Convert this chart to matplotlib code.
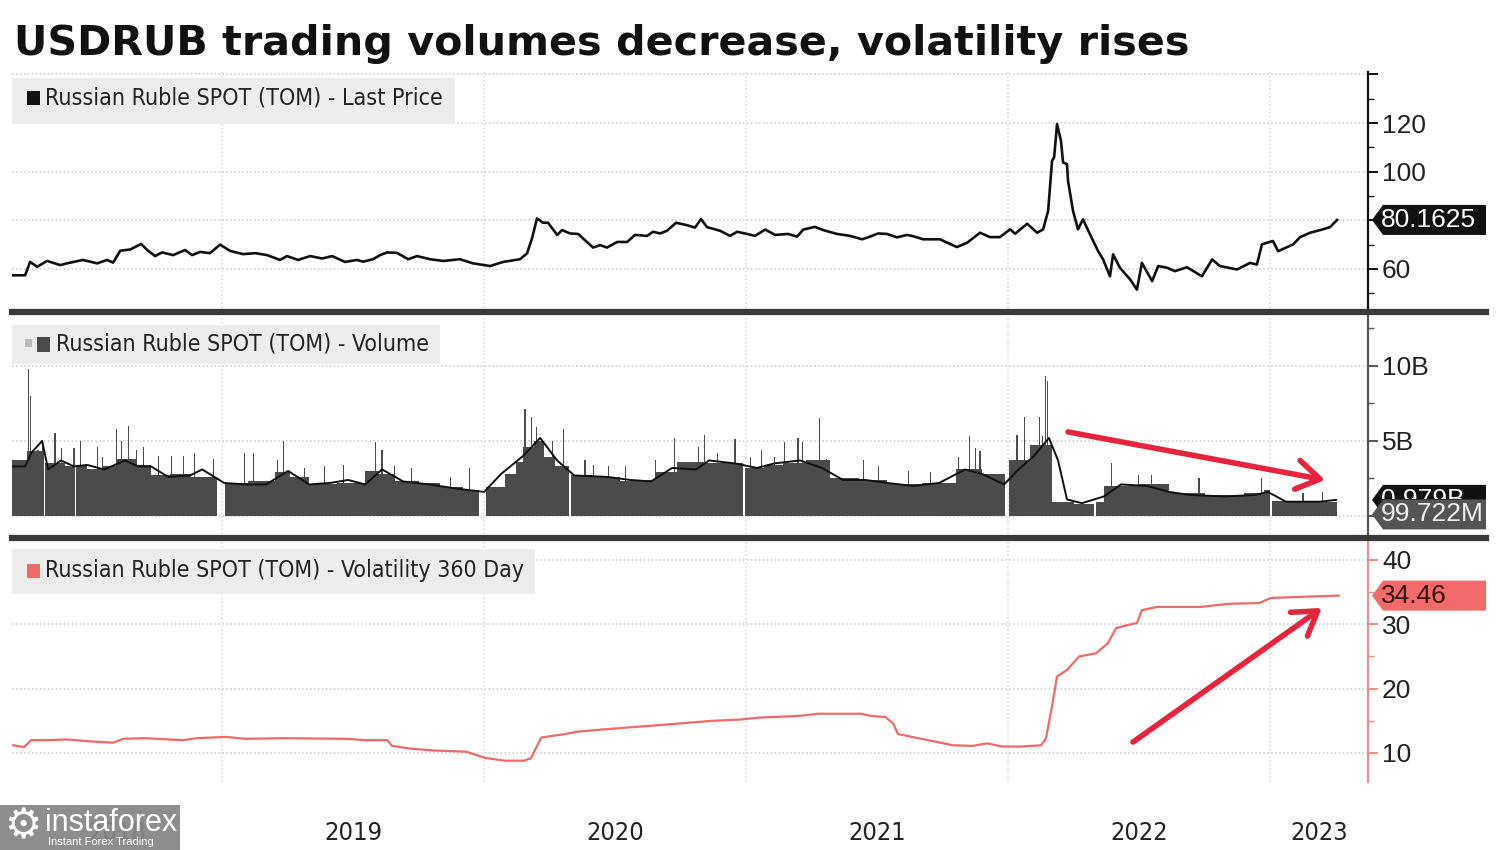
import matplotlib
matplotlib.use("Agg")
import matplotlib.pyplot as plt
from matplotlib.patches import Polygon, Rectangle
from matplotlib.lines import Line2D
from matplotlib.transforms import blended_transform_factory, Bbox, TransformedBbox
from matplotlib.ticker import FixedLocator

plt.rcParams['font.family'] = ['Liberation Sans', 'DejaVu Sans']
NARROW = ['DejaVu Sans']

# ---------------- data (time as decimal years) ----------------
title = "USDRUB trading volumes decrease, volatility rises"
legend_price = "Russian Ruble SPOT (TOM) - Last Price"
legend_volume = "Russian Ruble SPOT (TOM) - Volume"
legend_vol = "Russian Ruble SPOT (TOM) - Volatility 360 Day"
year_labels = ['2018', '2019', '2020', '2021', '2022', '2023']
year_starts = [2019, 2020, 2021, 2022, 2023]

price_t = [2018.202, 2018.248, 2018.267, 2018.294, 2018.332, 2018.382, 2018.420, 2018.469, 2018.523, 2018.561,
           2018.584, 2018.611, 2018.649, 2018.691, 2018.714, 2018.744, 2018.771, 2018.813, 2018.859, 2018.885,
           2018.916, 2018.954, 2018.992, 2019.031, 2019.080, 2019.126, 2019.172, 2019.221, 2019.248, 2019.290,
           2019.336, 2019.382, 2019.420, 2019.469, 2019.515, 2019.538, 2019.576, 2019.603, 2019.630, 2019.668,
           2019.710, 2019.744, 2019.794, 2019.844, 2019.908, 2019.958, 2020.023, 2020.073, 2020.137, 2020.164,
           2020.183, 2020.202, 2020.225, 2020.244, 2020.279, 2020.298, 2020.328, 2020.359, 2020.416, 2020.443,
           2020.469, 2020.508, 2020.546, 2020.576, 2020.622, 2020.645, 2020.672, 2020.698, 2020.733, 2020.775,
           2020.805, 2020.828, 2020.851, 2020.901, 2020.939, 2020.966, 2021.004, 2021.034, 2021.073, 2021.111,
           2021.160, 2021.195, 2021.218, 2021.263, 2021.294, 2021.347, 2021.397, 2021.443, 2021.466, 2021.504,
           2021.538, 2021.576, 2021.615, 2021.637, 2021.676, 2021.740, 2021.805, 2021.844, 2021.893, 2021.931,
           2021.969, 2022.008, 2022.027, 2022.073, 2022.111, 2022.134, 2022.153, 2022.168, 2022.176, 2022.187,
           2022.202, 2022.210, 2022.225, 2022.229, 2022.248, 2022.267, 2022.286, 2022.313, 2022.344, 2022.363,
           2022.389, 2022.401, 2022.427, 2022.466, 2022.492, 2022.511, 2022.550, 2022.573, 2022.607, 2022.637,
           2022.683, 2022.740, 2022.779, 2022.809, 2022.874, 2022.924, 2022.950, 2022.969, 2022.989, 2023.011,
           2023.031, 2023.088, 2023.115, 2023.153, 2023.202, 2023.229, 2023.256]
price_v = [57.4, 57.4, 62.9, 60.9, 63.3, 61.6, 62.6, 63.7, 62.3, 63.7,
           62.6, 67.5, 68.0, 70.3, 67.8, 65.3, 66.8, 65.7, 67.8, 65.7,
           67.0, 66.5, 70.0, 67.4, 66.1, 66.5, 65.7, 63.7, 65.3, 63.7,
           65.3, 64.3, 65.3, 62.9, 63.7, 63.0, 64.0, 65.7, 66.8, 66.6,
           64.0, 65.3, 64.0, 63.3, 64.0, 62.3, 61.2, 62.9, 64.0, 66.4,
           72.6, 80.8, 79.0, 79.0, 74.0, 76.0, 74.6, 74.4, 68.8, 69.8,
           68.8, 71.1, 71.1, 74.0, 73.6, 75.3, 74.6, 75.7, 79.0, 78.0,
           77.0, 80.5, 77.2, 75.7, 73.6, 75.3, 74.4, 73.6, 76.2, 74.0,
           74.4, 73.3, 76.2, 77.3, 76.0, 74.4, 73.6, 72.2, 73.0, 74.6,
           74.4, 73.0, 74.0, 73.5, 72.2, 72.2, 69.0, 70.8, 74.9, 73.1,
           73.1, 76.3, 74.5, 78.6, 74.9, 76.3, 83.9, 104.5, 105.9, 119.6,
           112.7, 103.8, 103.1, 96.2, 83.9, 76.3, 80.4, 74.2, 67.3, 63.9,
           57.0, 66.0, 60.5, 55.7, 51.5, 62.5, 55.0, 61.2, 60.5, 59.1,
           60.7, 57.0, 63.9, 61.2, 59.8, 62.5, 61.8, 70.1, 70.8, 71.5,
           67.3, 70.1, 73.1, 74.9, 76.3, 77.2, 80.1625]
price_last_label = "80.1625"

# volume body (dense daily bars), in billions
body_start = [2018.198, 2018.256, 2018.324, 2018.40, 2018.443, 2018.485, 2018.54, 2018.599, 2018.67, 2018.729,
              2018.80, 2018.88, 2019.012, 2019.10, 2019.202, 2019.26, 2019.332, 2019.44, 2019.546, 2019.60,
              2019.66, 2019.75, 2019.832, 2019.92, 2020.006, 2020.080, 2020.12, 2020.149, 2020.19, 2020.229,
              2020.27, 2020.331, 2020.42, 2020.519, 2020.60, 2020.653, 2020.737, 2020.85, 2020.995, 2021.07,
              2021.141, 2021.23, 2021.321, 2021.43, 2021.538, 2021.67, 2021.802, 2021.90, 2022.002, 2022.084,
              2022.168, 2022.25, 2022.335, 2022.366, 2022.50, 2022.615, 2022.75, 2022.90, 2022.977, 2023.008,
              2023.10]
body_end = [2018.256, 2018.321, 2018.40, 2018.437, 2018.485, 2018.54, 2018.599, 2018.67, 2018.729, 2018.80,
            2018.88, 2018.982, 2019.10, 2019.202, 2019.26, 2019.332, 2019.44, 2019.546, 2019.60, 2019.66,
            2019.75, 2019.832, 2019.92, 2019.982, 2020.080, 2020.12, 2020.149, 2020.19, 2020.229, 2020.27,
            2020.325, 2020.42, 2020.519, 2020.60, 2020.653, 2020.737, 2020.85, 2020.990, 2021.07, 2021.141,
            2021.23, 2021.321, 2021.43, 2021.538, 2021.67, 2021.802, 2021.90, 2021.990, 2022.084, 2022.168,
            2022.25, 2022.330, 2022.366, 2022.50, 2022.615, 2022.75, 2022.90, 2022.977, 2023.0, 2023.10,
            2023.256]
body_v = [3.7, 4.3, 3.5, 3.3, 3.4, 3.1, 3.3, 3.8, 3.4, 2.7,
          2.8, 2.6, 2.2, 2.3, 2.9, 2.6, 2.1, 2.2, 3.0, 2.8,
          2.3, 2.2, 1.9, 1.7, 1.9, 2.8, 3.6, 4.6, 5.0, 3.9,
          3.3, 2.7, 2.6, 2.3, 2.4, 2.9, 3.6, 3.5, 3.2, 3.4,
          3.5, 3.7, 2.5, 2.4, 2.1, 2.2, 3.1, 2.8, 3.7, 4.7,
          0.9, 0.8, 0.9, 2.0, 2.1, 1.5, 1.4, 1.5, 1.7, 1.0,
          0.95]

spike_t = [2018.261, 2018.269, 2018.297, 2018.313, 2018.362, 2018.387, 2018.435, 2018.460, 2018.525, 2018.542,
           2018.598, 2018.615, 2018.644, 2018.672, 2018.700, 2018.757, 2018.807, 2018.852, 2018.895, 2018.966,
           2019.085, 2019.121, 2019.210, 2019.235, 2019.316, 2019.390, 2019.463, 2019.585, 2019.610, 2019.659,
           2019.724, 2019.871, 2019.944, 2020.156, 2020.181, 2020.200, 2020.221, 2020.262, 2020.303, 2020.385,
           2020.417, 2020.474, 2020.540, 2020.654, 2020.727, 2020.818, 2020.842, 2020.892, 2020.958, 2021.016,
           2021.058, 2021.107, 2021.148, 2021.198, 2021.215, 2021.281, 2021.306, 2021.447, 2021.505, 2021.620,
           2021.703, 2021.811, 2021.852, 2021.877, 2021.893, 2022.034, 2022.064, 2022.092, 2022.120, 2022.133,
           2022.142, 2022.150, 2022.395, 2022.497, 2022.547, 2022.729, 2022.969, 2023.126, 2023.201]
spike_v = [9.8, 8.0, 4.4, 5.0, 5.5, 4.5, 4.5, 5.0, 4.6, 3.9,
           5.8, 5.0, 6.0, 4.4, 4.6, 4.0, 4.0, 4.0, 4.2, 3.8,
           4.2, 4.2, 3.7, 5.0, 3.2, 3.3, 3.4, 4.9, 4.4, 3.3,
           3.2, 2.6, 3.2, 7.1, 6.6, 5.9, 5.0, 5.0, 5.8, 3.7,
           3.4, 3.3, 3.3, 3.7, 5.2, 4.6, 5.4, 4.2, 5.1, 3.9,
           4.4, 3.9, 4.9, 5.2, 4.9, 6.5, 3.8, 3.7, 3.3, 3.0,
           2.9, 3.9, 5.3, 4.5, 4.3, 5.4, 6.6, 4.4, 6.6, 5.3,
           9.3, 9.0, 3.5, 2.7, 2.7, 2.5, 2.5, 1.5, 1.6]

ma_t = [2018.198, 2018.248, 2018.271, 2018.313, 2018.336, 2018.385, 2018.435, 2018.485, 2018.550, 2018.630,
        2018.679, 2018.729, 2018.794, 2018.878, 2018.924, 2019.008, 2019.088, 2019.168, 2019.252, 2019.332,
        2019.412, 2019.481, 2019.546, 2019.611, 2019.691, 2019.790, 2019.905, 2020.000, 2020.065, 2020.149,
        2020.214, 2020.279, 2020.344, 2020.473, 2020.557, 2020.637, 2020.718, 2020.809, 2020.859, 2020.958,
        2021.042, 2021.107, 2021.206, 2021.290, 2021.370, 2021.454, 2021.538, 2021.637, 2021.737, 2021.836,
        2021.901, 2021.985, 2022.034, 2022.099, 2022.156, 2022.191, 2022.225, 2022.282, 2022.366, 2022.431,
        2022.531, 2022.615, 2022.695, 2022.828, 2022.943, 2022.992, 2023.061, 2023.191, 2023.252]
ma_v = [3.3, 3.3, 4.2, 5.0, 3.1, 3.7, 3.3, 3.4, 3.1, 3.7,
        3.3, 3.3, 2.6, 2.7, 3.1, 2.2, 2.1, 2.1, 3.0, 2.1,
        2.2, 2.4, 2.1, 3.1, 2.3, 2.1, 1.8, 1.6, 2.8, 4.0,
        5.2, 3.7, 2.7, 2.6, 2.4, 2.3, 3.2, 3.1, 3.7, 3.5,
        3.2, 3.5, 3.7, 3.2, 2.4, 2.4, 2.2, 2.0, 2.2, 3.1,
        2.8, 2.1, 3.0, 4.0, 5.2, 3.7, 1.1, 0.85, 1.3, 2.1,
        2.0, 1.6, 1.4, 1.3, 1.4, 1.6, 0.95, 0.95, 1.07]
volume_last = 0.0997
volume_last_label = "99.722M"
volume_ma_last = 1.07
volume_ma_label = "0.979B"

vol_t = [2018.202, 2018.244, 2018.271, 2018.336, 2018.408, 2018.500, 2018.584, 2018.622, 2018.702, 2018.851,
         2018.905, 2019.015, 2019.088, 2019.237, 2019.473, 2019.546, 2019.630, 2019.649, 2019.714, 2019.805,
         2019.931, 2019.969, 2020.008, 2020.080, 2020.153, 2020.179, 2020.218, 2020.302, 2020.355, 2020.466,
         2020.592, 2020.721, 2020.870, 2020.977, 2021.050, 2021.198, 2021.275, 2021.439, 2021.477, 2021.531,
         2021.561, 2021.580, 2021.645, 2021.718, 2021.790, 2021.866, 2021.920, 2021.977, 2022.050, 2022.126,
         2022.145, 2022.172, 2022.187, 2022.225, 2022.271, 2022.336, 2022.382, 2022.412, 2022.458, 2022.492,
         2022.511, 2022.569, 2022.733, 2022.847, 2022.958, 2023.004, 2023.141, 2023.263]
vol_v = [11.2, 10.9, 12.0, 12.0, 12.1, 11.8, 11.6, 12.2, 12.3, 12.0,
         12.3, 12.5, 12.2, 12.3, 12.2, 12.0, 12.0, 11.1, 10.7, 10.4,
         10.2, 9.7, 9.2, 8.8, 8.8, 9.2, 12.4, 12.9, 13.3, 13.7,
         14.1, 14.5, 15.0, 15.2, 15.5, 15.75, 16.1, 16.1, 15.75, 15.6,
         14.6, 12.95, 12.4, 11.8, 11.2, 11.1, 11.5, 11.0, 11.0, 11.2,
         12.3, 18.2, 21.9, 22.9, 25.0, 25.5, 27.1, 29.4, 29.9, 30.2,
         32.2, 32.7, 32.7, 33.2, 33.3, 34.1, 34.3, 34.46]
vol_last_label = "34.46"

# ---------------- layout ----------------
W, H = 1500, 850
fig = plt.figure(figsize=(15, 8.5), dpi=100)
fig.patch.set_facecolor('white')


def fx(x):
    return x / W


def fy(y):
    return 1 - y / H


L, R = 12, 1368
XMIN, XMAX = 2018.198, 2023.374


def add_ax(top, bottom):
    return fig.add_axes([fx(L), fy(bottom), fx(R) - fx(L), (bottom - top) / H])


ax1 = add_ax(72, 312)
ax2 = add_ax(316, 538)
ax3 = add_ax(541, 782)

GRID = '#c9c9c9'
DOT = (0, (1, 1.6))


def style(ax, spine_color, ylim, majors, labels, minors):
    ax.set_xlim(XMIN, XMAX)
    ax.set_ylim(*ylim)
    for s in ['left', 'top', 'bottom']:
        ax.spines[s].set_visible(False)
    ax.spines['right'].set_color(spine_color)
    ax.spines['right'].set_linewidth(1.6)
    ax.yaxis.tick_right()
    ax.yaxis.set_major_locator(FixedLocator(majors))
    ax.set_yticklabels(labels)
    ax.yaxis.set_minor_locator(FixedLocator(minors))
    ax.tick_params(axis='y', which='major', length=7, width=1.4, color=spine_color,
                   labelsize=19, pad=3, labelcolor='#222222')
    ax.tick_params(axis='y', which='minor', length=4, width=1.0, color=spine_color)
    ax.tick_params(axis='x', which='both', bottom=False, labelbottom=False)
    ax.grid(axis='y', which='major', color=GRID, linestyle=DOT, lw=1.1, zorder=0)
    for yr in year_starts:
        ax.axvline(yr, color='#d6d6d6', linestyle=DOT, lw=1.1, zorder=0)
    ax.set_facecolor('none')


style(ax1, '#111111', (42.3, 141.0), [60, 80, 100, 120, 140], ['60', '', '100', '120', ''],
      [50, 70, 90, 110, 130])
style(ax2, '#555555', (-1.47, 13.33), [0, 5, 10], ['', '5B', '10B'], [2.5, 7.5, 12.5])
style(ax3, '#f08c8c', (5.49, 42.95), [10, 20, 30, 40], ['10', '20', '30', '40'], [15, 25, 35])

# ---------------- series ----------------
ax1.plot(price_t, price_v, color='#111111', lw=1.9, zorder=3, solid_joinstyle='round')

BAR = '#4b4b4b'
ax2.bar(body_start, body_v, width=[e - s for s, e in zip(body_start, body_end)],
        align='edge', color=BAR, lw=0, zorder=2)
ax2.bar(spike_t, spike_v, width=0.0045, align='center', color=BAR, lw=0, zorder=2)
ax2.plot(ma_t, ma_v, color='#111111', lw=1.4, zorder=3)

ax3.plot(vol_t, vol_v, color='#f06a6a', lw=1.6, zorder=3)

# ---------------- arrows ----------------
ARROW = '#e8233d'
ax2.annotate('', xy=(2023.21, 2.4), xytext=(2022.229, 5.6),
             arrowprops=dict(arrowstyle='->,head_length=0.55,head_width=0.35', color=ARROW, lw=4,
                             mutation_scale=30, shrinkA=0, shrinkB=0), zorder=5)
ax3.annotate('', xy=(2023.198, 32.55), xytext=(2022.477, 11.7),
             arrowprops=dict(arrowstyle='->,head_length=0.55,head_width=0.35', color=ARROW, lw=4,
                             mutation_scale=30, shrinkA=0, shrinkB=0), zorder=5)

# ---------------- separators ----------------
for ysep in (312, 538):
    fig.add_artist(Line2D([fx(12), fx(1486)], [fy(ysep), fy(ysep)], color='#3a3a3a', lw=4.5,
                          transform=fig.transFigure, zorder=6))

renderer = fig.canvas.get_renderer()


def fit(txt, width_px):
    w = txt.get_window_extent(renderer).width
    txt.set_fontsize(txt.get_fontsize() * width_px / w)


# ---------------- title ----------------
t = fig.text(fx(14), fy(55), title, fontsize=30, fontweight='bold', family=['DejaVu Sans'],
             va='baseline', ha='left', color='#111111')
fit(t, 1174)

# ---------------- legends ----------------
LEG_BG = '#ececec'


def legend_box(x0, x1, y0, y1):
    fig.add_artist(Rectangle((fx(x0), fy(y1)), fx(x1) - fx(x0), (y1 - y0) / H, transform=fig.transFigure,
                             facecolor=LEG_BG, edgecolor='none', zorder=4))


def square(x0, x1, y0, y1, color):
    fig.add_artist(Rectangle((fx(x0), fy(y1)), fx(x1) - fx(x0), (y1 - y0) / H, transform=fig.transFigure,
                             facecolor=color, edgecolor='none', zorder=5))


def legend_text(x, y, s, width):
    lt = fig.text(fx(x), fy(y), s, family=NARROW, fontstretch='condensed', fontsize=18, va='center',
                  color='#222222', zorder=6)
    fit(lt, width)


legend_box(12, 455, 78, 124)
square(27, 40, 91, 105, '#111111')
legend_text(45, 98, legend_price, 398)

legend_box(12, 440, 325, 364)
square(25, 32, 339, 347, '#bdbdbd')
square(37, 50, 337, 352, '#4b4b4b')
legend_text(56, 344, legend_volume, 373)

legend_box(12, 535, 549, 594)
square(27, 40, 564, 578, '#f06a6a')
legend_text(45, 571, legend_vol, 478)

# ---------------- year labels ----------------
year_pos = [(XMIN + 2019) / 2, 2019.5, 2020.5, 2021.5, 2022.5, (2023 + XMAX) / 2]
btr = blended_transform_factory(ax3.transData, fig.transFigure)
for lbl, pos in zip(year_labels, year_pos):
    yt = ax3.text(pos, fy(833), lbl, transform=btr, ha='center', va='center', family=NARROW,
                  fontstretch='condensed', fontsize=22, color='#222222', clip_on=False)
    fit(yt, 58)


# ---------------- value tags ----------------
def tag(ax, value, text, fc, tc, h=30, z=7, clip_below=None):
    _, yd = ax.transData.transform((XMIN, value))
    yc = yd / fig.dpi / fig.get_size_inches()[1]
    hh = h / 2 / H
    x0, x1, tip = fx(1372), fx(1486), fx(1383)
    pts = [(x0, yc), (tip, yc + hh), (x1, yc + hh), (x1, yc - hh), (tip, yc - hh)]
    fig.add_artist(Polygon(pts, closed=True, transform=fig.transFigure, facecolor=fc,
                           edgecolor='none', zorder=z))
    tx = fig.text(fx(1381), yc, text, color=tc, fontsize=19, va='center', ha='left', zorder=z + 0.5)
    if clip_below is not None:
        tx.set_clip_box(TransformedBbox(Bbox([[x0, clip_below], [x1, yc + hh]]), fig.transFigure))
        tx.set_clip_on(True)
    return yc + hh


top_gray = (ax2.transData.transform((XMIN, volume_last))[1] / H) + 15 / H
tag(ax1, price_v[-1], price_last_label, '#111111', 'white')
tag(ax2, volume_ma_last, volume_ma_label, '#111111', 'white', z=7, clip_below=top_gray)
tag(ax2, volume_last, volume_last_label, '#555555', '#eeeeee', z=8)
tag(ax3, vol_v[-1], vol_last_label, '#f26b6b', '#3a1010')

# ---------------- watermark ----------------
fig.add_artist(Rectangle((0, 0), fx(180), 45 / H, transform=fig.transFigure,
                         facecolor='#858585', edgecolor='none', alpha=0.93, zorder=10))
fig.text(fx(4), fy(826), '\u2699', color='white', fontsize=30, family=['DejaVu Sans'],
         va='center', ha='left', zorder=11)
fig.text(fx(45), fy(823), 'instaforex', color='white', fontsize=22, va='center', ha='left', zorder=11)
fig.text(fx(48), fy(842), 'Instant Forex Trading', color='white', fontsize=8, va='center', ha='left', zorder=11)

fig.savefig('out.png', dpi=100, facecolor='white')
